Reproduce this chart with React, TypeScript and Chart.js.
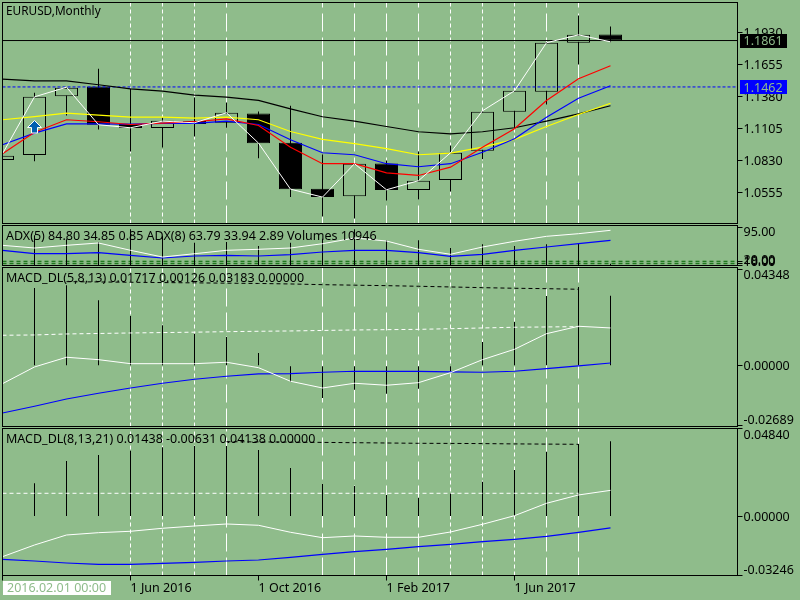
import React, { useEffect, useRef } from "react";
import { Chart, registerables } from "chart.js";

Chart.register(...registerables);

const months = ["Feb 2016","Mar 2016","Apr 2016","May 2016","Jun 2016","Jul 2016","Aug 2016","Sep 2016","Oct 2016","Nov 2016","Dec 2016","Jan 2017","Feb 2017","Mar 2017","Apr 2017","May 2017","Jun 2017","Jul 2017","Aug 2017","Sep 2017"];
const opens = [1.0833,1.0876,1.1383,1.1466,1.1144,1.1108,1.1170,1.1154,1.1234,1.0982,1.0587,1.0523,1.0804,1.0575,1.0661,1.0913,1.1249,1.1420,1.1842,1.1913];
const highs = [1.0870,1.1412,1.1462,1.1618,1.1446,1.1200,1.1371,1.1328,1.1251,1.1300,1.0882,1.0804,1.0830,1.0907,1.0959,1.1255,1.1432,1.1848,1.2076,1.1982];
const lows = [1.0833,1.0824,1.1217,1.1096,1.0907,1.0942,1.1036,1.1111,1.0850,1.0515,1.0349,1.0332,1.0486,1.0495,1.0564,1.0841,1.1111,1.1311,1.1655,1.1847];
const closes = [1.0870,1.1377,1.1455,1.1137,1.1108,1.1171,1.1144,1.1240,1.0979,1.0583,1.0515,1.0802,1.0575,1.0656,1.0896,1.1249,1.1429,1.1842,1.1910,1.1861];

const priceWhite = [1.0888,1.1377,1.1460,1.1137,1.1111,1.1168,1.1154,1.1240,1.0979,1.0583,1.0515,1.0802,1.0578,1.0656,1.0896,1.1257,1.1429,1.1842,1.1910,1.1850];
const priceRed = [1.0888,1.1073,1.1180,1.1163,1.1139,1.1151,1.1163,1.1188,1.1131,1.0944,1.0802,1.0802,1.0724,1.0701,1.0772,1.0944,1.1102,1.1346,1.1532,1.1644];
const priceBlue = [1.0965,1.1065,1.1145,1.1145,1.1142,1.1148,1.1148,1.1168,1.1139,1.1008,1.0896,1.0879,1.0802,1.0776,1.0802,1.0901,1.1017,1.1202,1.1365,1.1472];
const priceYellow = [1.1180,1.1206,1.1237,1.1219,1.1202,1.1202,1.1194,1.1202,1.1180,1.1079,1.1011,1.0974,1.0931,1.0879,1.0893,1.0944,1.1011,1.1122,1.1225,1.1322];
const priceBlack = [1.1529,1.1515,1.1515,1.1481,1.1446,1.1426,1.1391,1.1374,1.1346,1.1274,1.1206,1.1168,1.1122,1.1077,1.1059,1.1077,1.1111,1.1168,1.1231,1.1300];
const bidPrice = 1.1861;
const dashedPrice = 1.1462;
const arrowPoint = { index: 1, price: 1.1118 };
const priceTicks = [1.193,1.1655,1.138,1.1105,1.083,1.0555];

const adxWhite = [50.2,43.5,50.2,56,37.8,21.1,29.3,37.8,40.3,43.5,54.2,68.4,60.9,40.3,27.9,46,60.2,72.6,79.1,87.5];
const adxBlue = [37.8,29.3,29.3,31.8,25.4,18.7,23.6,25.4,23.6,26.9,33.6,37.8,37.8,31.8,22.9,27.9,37.8,46,54.2,62.7];
const volumes = [0,183650,159320,142900,220130,179390,138650,142900,118580,138650,162970,220130,153240,153240,106420,128920,118580,128920,136820,10946];
const adxLevels = [10.5,5.5,0.5];
const adxLevelLabels = ["20.00","18.00","10.00"];

const macd1Bars = [0,0.03532,0.03655,0.02974,0.02261,0.01839,0.01457,0.01308,0.00581,-0.00735,-0.01462,-0.01085,-0.01267,-0.0104,-0.00236,0.0108,0.01989,0.03169,0.03578,0.03183];
const macd1White = [-0.00813,-0.00054,0.00386,0.00277,0.00095,0.00095,0.00095,0.00159,-0.00086,-0.00704,-0.01008,-0.00795,-0.00885,-0.00767,-0.00313,0.00277,0.00749,0.01457,0.01793,0.01717];
const macd1Blue = [-0.02143,-0.01839,-0.01507,-0.01249,-0.01008,-0.00795,-0.00613,-0.00477,-0.00372,-0.00359,-0.00295,-0.0025,-0.0025,-0.0025,-0.00281,-0.00295,-0.0025,-0.00132,-0.00009,0.00126];
const macd1WhiteDash = [0.01385,0.01398,0.01444,0.01466,0.01489,0.01507,0.01525,0.01548,0.01566,0.0158,0.01603,0.01625,0.01639,0.01653,0.01684,0.01716,0.01748,0.01762,0.01775];
const macd1BlackDash = [0.03818,0.03805,0.03791,0.03777,0.03764,0.0375,0.03736,0.03714,0.03682,0.03659,0.03637,0.03609,0.03578,0.03546,0.03519,0.035,0.03473];

const macd2Bars = [0,0.01826,0.03053,0.03383,0.03619,0.03806,0.03878,0.03878,0.03658,0.02668,0.01788,0.01678,0.01183,0.01034,0.01276,0.01914,0.02558,0.03564,0.03988,0.04138];
const macd2White = [-0.02211,-0.01568,-0.01018,-0.00891,-0.00814,-0.00649,-0.00523,-0.00413,-0.00484,-0.00869,-0.01166,-0.01073,-0.01144,-0.01144,-0.00853,-0.00429,0.00044,0.00726,0.01183,0.01438];
const macd2Blue = [-0.02354,-0.02448,-0.02558,-0.02629,-0.02629,-0.02574,-0.02519,-0.02448,-0.02393,-0.02244,-0.02079,-0.01936,-0.01804,-0.01661,-0.01529,-0.01386,-0.01254,-0.01089,-0.00869,-0.00631];
const macd2WhiteDash = [0.01276,0.01276,0.01276,0.01276,0.01276,0.01276,0.01276,0.01276,0.01276,0.01276,0.01276,0.01276,0.01276,0.01276,0.01276,0.01276,0.01276,0.01276,0.01276];
const macd2BlackDash = [0.04114,0.04103,0.04092,0.04076,0.04059,0.04043,0.04026,0.0402,0.0401,0.03993,0.03982,0.03971];

const shortDashBars = [4,5,6,14,15,16];
const longDashBars = [7,10,11,12,13,17,18];
const dateTickBars = [4,8,12,16];

const BG = "#8fbc8b";
const FONT = '"Noto Sans", sans-serif';
const FONT_SIZE = 12.5;
const X_MAX = 22.96875;

const pts = (vals: number[], start = 0) => vals.map((y, i) => ({ x: i + start, y }));
const line = (data: any[], color: string, order: number, dash: number[] = [], width = 1.2) => ({
  type: "line", data, borderColor: color, borderWidth: width, borderDash: dash,
  pointRadius: 0, tension: 0, order, fill: false,
});
const hline = (y: number, color: string, order: number, dash: number[] = []) =>
  line([{ x: 0, y }, { x: X_MAX, y }], color, order, dash, 1);
const vlines = (min: number, max: number) => [
  ...shortDashBars.map((i) => line([{ x: i, y: min }, { x: i, y: max }], "#ffffff", 50, [4, 3], 1)),
  ...longDashBars.map((i) => line([{ x: i, y: min }, { x: i, y: max }], "#ffffff", 50, [18, 6], 1)),
];
const stickBars = (vals: number[], order = 20) => ({
  type: "bar",
  data: vals.map((v, i) => ({ x: i, y: [0, v] })).filter((d) => d.y[1] !== 0),
  backgroundColor: "#000000", borderWidth: 0, barThickness: 1, inflateAmount: 0, grouped: false, order,
});

type Tag = { value: number; text: string; bg: string; fg: string };
const overlay = (label: string, labelY: number, labelSize: number, tags: Tag[] = [], dateBox?: string) => ({
  id: "overlay",
  afterDraw(chart: any) {
    const { ctx, chartArea: a } = chart;
    ctx.save();
    ctx.strokeStyle = "#000";
    ctx.lineWidth = 1;
    ctx.strokeRect(a.left, a.top, a.right - a.left, a.bottom - a.top);
    ctx.textBaseline = "middle";
    ctx.textAlign = "left";
    ctx.fillStyle = "#000";
    ctx.font = `${labelSize}px ${FONT}`;
    ctx.fillText(label, 6, labelY);
    ctx.font = `${FONT_SIZE}px ${FONT}`;
    for (const t of tags) {
      const y = chart.scales.y.getPixelForValue(t.value);
      ctx.fillStyle = t.bg;
      ctx.fillRect(740, Math.round(y) - 7, 47, 14);
      ctx.fillStyle = t.fg;
      ctx.fillText(t.text, 743.5, y + 1);
    }
    if (dateBox) {
      ctx.fillStyle = "#ffffff";
      ctx.fillRect(3, 581, 108, 14);
      ctx.fillStyle = BG;
      ctx.fillText(dateBox, 7, 588);
    }
    ctx.restore();
  },
});

const yAxis = (min: number, max: number, ticks: number[], labels: string[], shifts: number[]) => ({
  position: "right", min, max,
  afterFit: (s: any) => { s.width = 62.5; s.paddingTop = 0; s.paddingBottom = 0; s.paddingLeft = 0; s.paddingRight = 0; },
  afterBuildTicks: (s: any) => { s.ticks = ticks.map((value) => ({ value })); },
  border: { display: false },
  grid: { drawOnChartArea: false, drawTicks: true, tickLength: 5, color: "#000000", tickColor: "#000000" },
  ticks: {
    autoSkip: false, padding: 1, color: "#000000",
    font: (c: any) => {
      const sh = shifts[c.index] ?? 1;
      return { family: FONT, size: FONT_SIZE, lineHeight: `${Math.abs(sh) * 2}px` };
    },
    callback: (_v: any, i: number) => {
      const sh = shifts[i] ?? 1;
      return sh > 0 ? ["", labels[i]] : [labels[i], ""];
    },
  },
});

const hiddenX = { type: "linear", min: 0, max: X_MAX, display: false, offset: false };

const baseOptions = (top: number, bottom: number, scales: any) => ({
  responsive: false, animation: false as const, events: [],
  layout: { autoPadding: false, padding: { left: 2.5, right: 0, top, bottom } },
  plugins: { legend: { display: false }, tooltip: { enabled: false } },
  scales,
});

function arrowIcon() {
  const c = document.createElement("canvas");
  c.width = 15; c.height = 14;
  const g = c.getContext("2d")!;
  g.beginPath();
  g.moveTo(7.5, 0.5); g.lineTo(14.5, 7.5); g.lineTo(10.5, 7.5); g.lineTo(10.5, 13); g.lineTo(4.5, 13); g.lineTo(4.5, 7.5); g.lineTo(0.5, 7.5);
  g.closePath();
  g.fillStyle = "#0060b0"; g.fill();
  g.strokeStyle = "#ffffff"; g.lineWidth = 1; g.stroke();
  return c;
}

function priceConfig() {
  const min = 1.0288, max = 1.2188;
  return {
    type: "bar",
    data: { datasets: [
      line(pts(priceWhite), "#ffffff", 1, [], 1),
      line(pts(priceRed), "#ff0000", 2),
      line(pts(priceBlue), "#0000ff", 3),
      line(pts(priceYellow), "#ffff00", 4),
      line(pts(priceBlack), "#000000", 5),
      { type: "scatter", data: [{ x: arrowPoint.index, y: arrowPoint.price }], pointStyle: arrowIcon(), order: 0, showLine: false },
      hline(bidPrice, "#000000", 6),
      hline(dashedPrice, "#0000ff", 7, [3, 2]),
      { type: "bar", data: opens.map((o, i) => ({ x: i, y: [o, closes[i]] })),
        backgroundColor: opens.map((o, i) => (closes[i] >= o ? BG : "#000000")),
        borderColor: "#000000", borderWidth: 1, borderSkipped: false, barThickness: 23, inflateAmount: 0, grouped: false, order: 10 },
      { type: "bar", data: lows.map((l, i) => ({ x: i, y: [l, highs[i]] })),
        backgroundColor: "#000000", borderWidth: 0, barThickness: 1, inflateAmount: 0, grouped: false, order: 11 },
      ...vlines(min, max),
    ] },
    options: baseOptions(2.5, 376.5, {
      x: hiddenX,
      y: yAxis(min, max, priceTicks, priceTicks.map((t) => t.toFixed(4)), []),
    }),
    plugins: [overlay("EURUSD,Monthly", 11.5, 11.8, [
      { value: dashedPrice, text: dashedPrice.toFixed(4), bg: "#0000ff", fg: BG },
      { value: bidPrice, text: bidPrice.toFixed(4), bg: "#000000", fg: BG },
    ])],
  };
}

function adxConfig() {
  const ticks = [95, ...adxLevels];
  return {
    type: "bar",
    data: { datasets: [
      line(pts(adxWhite), "#ffffff", 1, [], 1),
      line(pts(adxBlue), "#0000ff", 2),
      { ...stickBars(volumes), yAxisID: "v" },
      ...adxLevels.map((l) => hline(l, "#006400", 30, [4, 3])),
    ] },
    options: baseOptions(225.5, 334.5, {
      x: hiddenX,
      y: yAxis(0, 99.5, ticks, ["95.00", ...adxLevelLabels], [5, -1, -2, -3]),
      v: { display: false, min: 0, max: 243240 },
    }),
    plugins: [overlay("ADX(5) 84.80 34.85 0.85 ADX(8) 63.79 33.94 2.89 Volumes 10946", 236, 12.5)],
  };
}

function macdConfig(o: any) {
  const sets: any[] = [
    line(pts(o.white), "#ffffff", 1, [], 1),
    line(pts(o.blue), "#0000ff", 2),
    line(pts(o.whiteDash), "#ffffff", 3, [4, 3], 1),
    line(pts(o.blackDash, o.dashStart), "#000000", 4, [4, 3], 1),
    stickBars(o.bars),
    ...vlines(o.min, o.max),
  ];
  const x = o.xAxis || hiddenX;
  return {
    type: "bar",
    data: { datasets: sets },
    options: baseOptions(o.top, o.bottom, {
      x,
      y: yAxis(o.min, o.max, o.ticks, o.ticks.map((t: number) => t.toFixed(5)), o.shifts),
    }),
    plugins: [overlay(o.label, o.labelY, 12.5, [], o.dateBox)],
  };
}

const dateAxis = {
  type: "linear", min: 0, max: X_MAX, position: "bottom", offset: false,
  afterFit: (s: any) => { s.height = 24.5; s.paddingLeft = 0; s.paddingRight = 0; },
  afterBuildTicks: (s: any) => { s.ticks = [0, ...dateTickBars].map((value) => ({ value })); },
  border: { display: false },
  grid: { drawOnChartArea: false, drawTicks: true, tickLength: 5, color: "#000000", tickColor: "#000000", offset: false },
  ticks: {
    autoSkip: false, maxRotation: 0, minRotation: 0, align: "start", padding: 0, color: "#000000",
    font: { family: FONT, size: FONT_SIZE },
    callback: (v: number) => (v === 0 ? "" : `1 ${months[v]}`),
  },
};

const configs = () => [
  priceConfig(),
  adxConfig(),
  macdConfig({
    white: macd1White, blue: macd1Blue, whiteDash: macd1WhiteDash, blackDash: macd1BlackDash, dashStart: 2, bars: macd1Bars,
    min: -0.02757, max: 0.04461, top: 267.5, bottom: 173.5,
    ticks: [0.04348, 0, -0.02689], shifts: [5, 1, -5],
    label: "MACD_DL(5,8,13) 0.01717 0.00126 0.03183 0.00000", labelY: 278,
  }),
  macdConfig({
    white: macd2White, blue: macd2Blue, whiteDash: macd2WhiteDash, blackDash: macd2BlackDash, dashStart: 7, bars: macd2Bars,
    min: -0.03246, max: 0.0484, top: 428.5, bottom: 0, xAxis: dateAxis,
    ticks: [0.0484, 0, -0.03246], shifts: [7, 1, -5],
    label: "MACD_DL(8,13,21) 0.01438 -0.00631 0.04138 0.00000", labelY: 439,
    dateBox: "2016.02.01 00:00",
  }),
];

export default function App() {
  const wrap = useRef<HTMLDivElement>(null);
  useEffect(() => {
    document.body.style.margin = "0";
    document.body.style.background = BG;
    const charts = configs().map((cfg) => {
      const c = document.createElement("canvas");
      c.width = 800; c.height = 600;
      c.style.cssText = "position:absolute;left:0;top:0;width:800px;height:600px";
      wrap.current!.appendChild(c);
      return { c, chart: new Chart(c, cfg as any) };
    });
    return () => charts.forEach(({ c, chart }) => { chart.destroy(); c.remove(); });
  }, []);
  return <div ref={wrap} style={{ position: "relative", width: 800, height: 600, background: BG, overflow: "hidden" }} />;
}
